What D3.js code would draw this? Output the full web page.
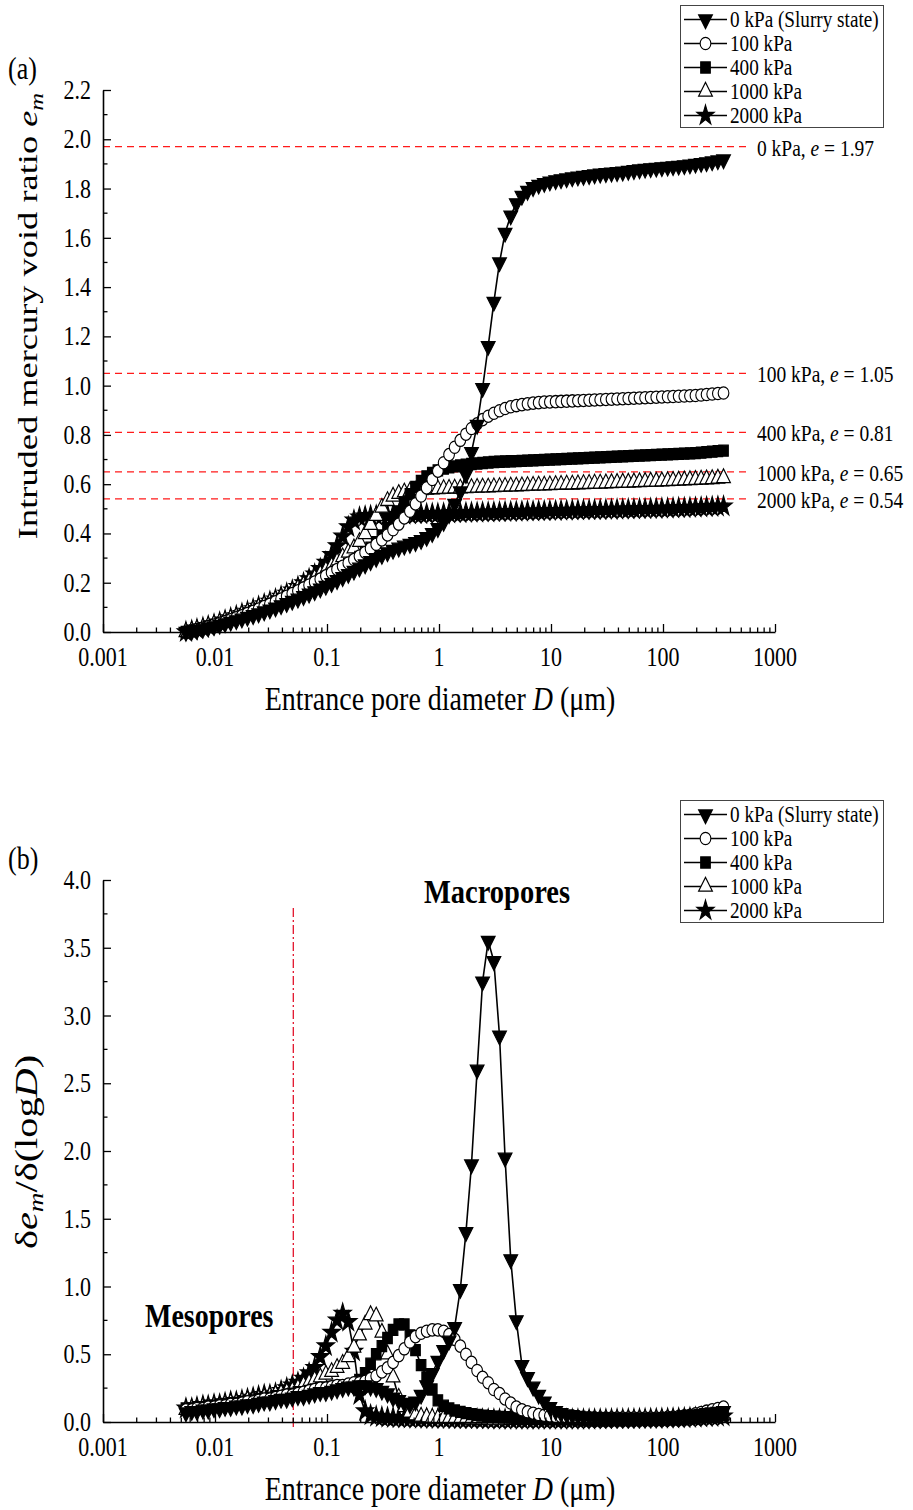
<!DOCTYPE html>
<html>
<head>
<meta charset="utf-8">
<script src="https://cdn.jsdelivr.net/npm/d3@7"></script>
<style>
  body { margin: 0; background: #fff; }
  svg text { font-family: "Liberation Serif", "Times New Roman", serif; fill: #000; }
</style>
</head>
<body>
<svg id="chart" width="913" height="1510"></svg>
<script>
// Entrance pore diameters (µm) of the MIP pressure steps
const diameters = [0.0055, 0.0062, 0.0069, 0.0078, 0.0087, 0.0098, 0.011, 0.0123, 0.0138, 0.0155,
  0.0174, 0.0195, 0.0219, 0.0245, 0.0275, 0.0309, 0.0347, 0.0389, 0.0437, 0.049,
  0.055, 0.0617, 0.0692, 0.0776, 0.0871, 0.0977, 0.11, 0.123, 0.138, 0.155,
  0.174, 0.195, 0.219, 0.245, 0.275, 0.309, 0.347, 0.389, 0.437, 0.49,
  0.55, 0.617, 0.692, 0.776, 0.871, 0.977, 1.1, 1.23, 1.38, 1.55,
  1.74, 1.95, 2.19, 2.45, 2.75, 3.09, 3.47, 3.89, 4.37, 4.9,
  5.5, 6.17, 6.92, 7.76, 8.71, 9.77, 11.0, 12.3, 13.8, 15.5,
  17.4, 19.5, 21.9, 24.5, 27.5, 30.9, 34.7, 38.9, 43.7, 49,
  55, 61.7, 69.2, 77.6, 87.1, 97.7, 110, 123, 138, 155,
  174, 195, 219, 245, 275, 309, 347];

const seriesLabels = ["0 kPa (Slurry state)", "100 kPa", "400 kPa", "1000 kPa", "2000 kPa"];

// Intruded mercury void ratio e_m
const em0 = [0, 0.004, 0.008, 0.013, 0.018, 0.023, 0.029, 0.035, 0.041, 0.047,
  0.054, 0.061, 0.068, 0.075, 0.083, 0.091, 0.099, 0.108, 0.117, 0.126,
  0.135, 0.145, 0.155, 0.165, 0.176, 0.187, 0.198, 0.21, 0.222, 0.235,
  0.248, 0.261, 0.274, 0.287, 0.3, 0.312, 0.323, 0.333, 0.342, 0.35,
  0.357, 0.364, 0.373, 0.385, 0.401, 0.421, 0.446, 0.478, 0.52, 0.57,
  0.64, 0.73, 0.84, 0.99, 1.16, 1.34, 1.5, 1.62, 1.69, 1.74,
  1.77, 1.79, 1.805, 1.815, 1.822, 1.828, 1.833, 1.837, 1.841, 1.845,
  1.848, 1.851, 1.854, 1.857, 1.86, 1.862, 1.864, 1.866, 1.868, 1.871,
  1.874, 1.877, 1.88, 1.882, 1.884, 1.886, 1.888, 1.89, 1.892, 1.894,
  1.897, 1.9, 1.903, 1.906, 1.91, 1.914, 1.918];
const em100 = [0, 0.005, 0.01, 0.016, 0.022, 0.028, 0.035, 0.042, 0.05, 0.058,
  0.066, 0.075, 0.084, 0.093, 0.103, 0.113, 0.123, 0.134, 0.145, 0.156,
  0.167, 0.179, 0.191, 0.203, 0.215, 0.228, 0.241, 0.254, 0.267, 0.28,
  0.294, 0.308, 0.323, 0.339, 0.356, 0.374, 0.394, 0.415, 0.438, 0.463,
  0.49, 0.52, 0.552, 0.585, 0.619, 0.653, 0.687, 0.72, 0.75, 0.778,
  0.803, 0.826, 0.845, 0.862, 0.876, 0.888, 0.898, 0.907, 0.914, 0.919,
  0.923, 0.926, 0.929, 0.931, 0.933, 0.934, 0.935, 0.936, 0.937, 0.938,
  0.939, 0.94, 0.941, 0.942, 0.943, 0.944, 0.945, 0.946, 0.947, 0.948,
  0.949, 0.95, 0.951, 0.952, 0.953, 0.954, 0.955, 0.956, 0.957, 0.958,
  0.959, 0.96, 0.962, 0.964, 0.966, 0.968, 0.97];
const em400 = [0, 0.005, 0.01, 0.016, 0.022, 0.028, 0.035, 0.042, 0.05, 0.058,
  0.066, 0.075, 0.084, 0.093, 0.103, 0.113, 0.123, 0.133, 0.144, 0.155,
  0.166, 0.177, 0.189, 0.201, 0.213, 0.225, 0.237, 0.25, 0.263, 0.276,
  0.29, 0.305, 0.322, 0.342, 0.365, 0.392, 0.422, 0.455, 0.49, 0.526,
  0.56, 0.589, 0.613, 0.632, 0.646, 0.656, 0.663, 0.668, 0.672, 0.676,
  0.679, 0.682, 0.684, 0.686, 0.688, 0.69, 0.691, 0.692, 0.693, 0.694,
  0.695, 0.696, 0.697, 0.698, 0.699, 0.7, 0.701, 0.702, 0.703, 0.704,
  0.705, 0.706, 0.707, 0.708, 0.709, 0.71, 0.711, 0.712, 0.713, 0.714,
  0.715, 0.716, 0.717, 0.718, 0.719, 0.72, 0.721, 0.722, 0.723, 0.724,
  0.725, 0.726, 0.728, 0.73, 0.732, 0.734, 0.736];
const em1000 = [0, 0.005, 0.011, 0.017, 0.024, 0.031, 0.038, 0.046, 0.054, 0.062,
  0.071, 0.08, 0.089, 0.099, 0.109, 0.119, 0.13, 0.141, 0.152, 0.164,
  0.176, 0.189, 0.203, 0.218, 0.234, 0.25, 0.267, 0.285, 0.304, 0.322,
  0.34, 0.366, 0.398, 0.435, 0.472, 0.505, 0.532, 0.55, 0.561, 0.567,
  0.571, 0.574, 0.576, 0.578, 0.579, 0.58, 0.581, 0.582, 0.583, 0.583,
  0.584, 0.585, 0.586, 0.587, 0.587, 0.588, 0.589, 0.59, 0.591, 0.591,
  0.592, 0.593, 0.594, 0.595, 0.595, 0.596, 0.597, 0.598, 0.599, 0.599,
  0.6, 0.601, 0.602, 0.603, 0.603, 0.604, 0.605, 0.606, 0.607, 0.607,
  0.608, 0.609, 0.61, 0.611, 0.611, 0.612, 0.613, 0.614, 0.615, 0.616,
  0.617, 0.618, 0.619, 0.62, 0.621, 0.623, 0.625];
const em2000 = [0, 0.005, 0.011, 0.017, 0.024, 0.031, 0.039, 0.047, 0.056, 0.065,
  0.074, 0.083, 0.093, 0.103, 0.113, 0.123, 0.133, 0.144, 0.156, 0.169,
  0.183, 0.198, 0.215, 0.234, 0.256, 0.282, 0.313, 0.349, 0.388, 0.426,
  0.453, 0.465, 0.469, 0.471, 0.472, 0.473, 0.474, 0.475, 0.476, 0.476,
  0.477, 0.478, 0.478, 0.479, 0.48, 0.48, 0.481, 0.481, 0.482, 0.482,
  0.483, 0.484, 0.484, 0.485, 0.485, 0.486, 0.486, 0.487, 0.487, 0.488,
  0.488, 0.489, 0.489, 0.49, 0.49, 0.491, 0.491, 0.492, 0.492, 0.493,
  0.493, 0.494, 0.494, 0.495, 0.495, 0.496, 0.496, 0.497, 0.497, 0.498,
  0.498, 0.499, 0.499, 0.5, 0.5, 0.501, 0.501, 0.502, 0.503, 0.503,
  0.504, 0.505, 0.506, 0.507, 0.508, 0.509, 0.51];

// Pore size density de_m/d(logD)
const psd0 = [0.07, 0.08, 0.08, 0.09, 0.09, 0.10, 0.10, 0.11, 0.11, 0.12,
  0.12, 0.13, 0.13, 0.14, 0.15, 0.15, 0.16, 0.17, 0.17, 0.18,
  0.19, 0.19, 0.20, 0.21, 0.22, 0.22, 0.23, 0.24, 0.25, 0.26,
  0.26, 0.27, 0.27, 0.26, 0.25, 0.23, 0.21, 0.18, 0.16, 0.14,
  0.13, 0.15, 0.20, 0.27, 0.36, 0.45, 0.53, 0.60, 0.70, 0.98,
  1.40, 1.90, 2.60, 3.25, 3.55, 3.40, 2.85, 1.95, 1.20, 0.75,
  0.42, 0.33, 0.26, 0.20, 0.15, 0.11, 0.08, 0.065, 0.055, 0.05,
  0.045, 0.04, 0.04, 0.035, 0.035, 0.032, 0.031, 0.03, 0.03, 0.029,
  0.029, 0.029, 0.03, 0.03, 0.031, 0.032, 0.034, 0.036, 0.04, 0.045,
  0.05, 0.055, 0.06, 0.065, 0.07, 0.075, 0.08];
const psd100 = [0.09, 0.09, 0.10, 0.10, 0.11, 0.11, 0.12, 0.12, 0.13, 0.13,
  0.14, 0.15, 0.15, 0.16, 0.17, 0.17, 0.18, 0.19, 0.20, 0.20,
  0.21, 0.22, 0.23, 0.24, 0.25, 0.25, 0.26, 0.27, 0.27, 0.28,
  0.29, 0.29, 0.30, 0.32, 0.34, 0.37, 0.40, 0.44, 0.49, 0.54,
  0.59, 0.63, 0.655, 0.67, 0.68, 0.68, 0.67, 0.645, 0.61, 0.56,
  0.50, 0.44, 0.38, 0.33, 0.29, 0.24, 0.21, 0.17, 0.14, 0.11,
  0.09, 0.075, 0.065, 0.055, 0.05, 0.045, 0.04, 0.04, 0.035, 0.035,
  0.03, 0.03, 0.03, 0.03, 0.03, 0.03, 0.03, 0.03, 0.03, 0.03,
  0.03, 0.03, 0.03, 0.03, 0.03, 0.03, 0.035, 0.035, 0.04, 0.045,
  0.05, 0.06, 0.07, 0.08, 0.09, 0.10, 0.11];
const psd400 = [0.10, 0.10, 0.11, 0.11, 0.12, 0.12, 0.13, 0.13, 0.14, 0.14,
  0.15, 0.15, 0.16, 0.17, 0.17, 0.18, 0.19, 0.19, 0.20, 0.21,
  0.22, 0.22, 0.23, 0.24, 0.25, 0.25, 0.26, 0.26, 0.27, 0.27,
  0.28, 0.31, 0.36, 0.43, 0.50, 0.56, 0.62, 0.68, 0.72, 0.72,
  0.64, 0.53, 0.42, 0.33, 0.24, 0.16, 0.12, 0.10, 0.085, 0.075,
  0.065, 0.058, 0.052, 0.047, 0.043, 0.04, 0.037, 0.035, 0.033, 0.031,
  0.03, 0.028, 0.027, 0.026, 0.025, 0.025, 0.024, 0.024, 0.023, 0.023,
  0.022, 0.022, 0.022, 0.021, 0.021, 0.021, 0.02, 0.02, 0.02, 0.02,
  0.02, 0.021, 0.021, 0.022, 0.022, 0.023, 0.024, 0.025, 0.027, 0.029,
  0.031, 0.034, 0.037, 0.04, 0.043, 0.046, 0.05];
const psd1000 = [0.09, 0.10, 0.10, 0.11, 0.11, 0.12, 0.12, 0.13, 0.14, 0.14,
  0.15, 0.16, 0.16, 0.17, 0.18, 0.19, 0.20, 0.21, 0.22, 0.23,
  0.25, 0.27, 0.29, 0.31, 0.33, 0.35, 0.37, 0.40, 0.43, 0.48,
  0.55, 0.64, 0.72, 0.79, 0.78, 0.66, 0.50, 0.33, 0.18, 0.11,
  0.07, 0.05, 0.04, 0.035, 0.03, 0.028, 0.025, 0.024, 0.023, 0.022,
  0.021, 0.02, 0.02, 0.019, 0.019, 0.018, 0.018, 0.018, 0.017, 0.017,
  0.017, 0.016, 0.016, 0.016, 0.016, 0.015, 0.015, 0.015, 0.015, 0.015,
  0.015, 0.015, 0.015, 0.015, 0.016, 0.016, 0.016, 0.017, 0.017, 0.018,
  0.018, 0.019, 0.02, 0.02, 0.021, 0.022, 0.023, 0.024, 0.026, 0.028,
  0.03, 0.032, 0.035, 0.038, 0.041, 0.045, 0.05];
const psd2000 = [0.10, 0.10, 0.11, 0.12, 0.12, 0.13, 0.13, 0.14, 0.15, 0.15,
  0.16, 0.17, 0.18, 0.19, 0.20, 0.20, 0.21, 0.23, 0.25, 0.27,
  0.29, 0.32, 0.36, 0.40, 0.48, 0.56, 0.66, 0.75, 0.80, 0.74,
  0.52, 0.20, 0.08, 0.05, 0.04, 0.035, 0.032, 0.03, 0.028, 0.027,
  0.026, 0.025, 0.024, 0.024, 0.023, 0.023, 0.022, 0.022, 0.021, 0.021,
  0.02, 0.02, 0.02, 0.019, 0.019, 0.019, 0.018, 0.018, 0.018, 0.018,
  0.017, 0.017, 0.017, 0.017, 0.017, 0.017, 0.017, 0.017, 0.017, 0.018,
  0.018, 0.018, 0.018, 0.019, 0.019, 0.019, 0.02, 0.02, 0.02, 0.021,
  0.021, 0.022, 0.022, 0.023, 0.023, 0.024, 0.025, 0.026, 0.027, 0.028,
  0.03, 0.032, 0.034, 0.036, 0.038, 0.04, 0.042];

// Total void ratio of each specimen (dashed reference lines)
const refVoidRatio = [1.97, 1.05, 0.81, 0.65, 0.54];
const refLabels = ["0 kPa", "100 kPa", "400 kPa", "1000 kPa", "2000 kPa"];

const xTickValues = [0.001, 0.01, 0.1, 1, 10, 100, 1000];
const xTickLabels = ["0.001", "0.01", "0.1", "1", "10", "100", "1000"];
const yTicksA = [0, 0.2, 0.4, 0.6, 0.8, 1.0, 1.2, 1.4, 1.6, 1.8, 2.0, 2.2];
const yTicksB = [0, 0.5, 1.0, 1.5, 2.0, 2.5, 3.0, 3.5, 4.0];
const poreBoundary = 0.05;

// glyphs of this figure are taller than they are wide
const TEXT_STRETCH = 1.2;
const TITLE_STRETCH = 1.3;
const MARK_STRETCH = 1.15;

const svg = d3.select("#chart");
svg.append("rect").attr("width", 913).attr("height", 1510).attr("fill", "#fff");

const x = d3.scaleLog().domain([0.001, 1000]).range([103, 775]);
const yA = d3.scaleLinear().domain([0, 2.2]).range([632, 90]);
const yB = d3.scaleLinear().domain([0, 4]).range([1422, 880]);

function label(parent, px, py, size, anchor, stretch) {
  return parent.append("g")
    .attr("transform", `translate(${px},${py}) scale(1,${stretch || TEXT_STRETCH})`)
    .append("text").attr("font-size", size).attr("text-anchor", anchor || "start");
}
function vlabel(parent, px, py, size) {
  return parent.append("g")
    .attr("transform", `translate(${px},${py}) rotate(-90) scale(${TITLE_STRETCH},1)`)
    .append("text").attr("font-size", size).attr("text-anchor", "middle");
}
function richText(sel, parts) {
  parts.forEach(p => {
    const t = sel.append("tspan").text(p.t);
    if (p.i) t.attr("font-style", "italic");
    if (p.dy) t.attr("dy", p.dy);
    if (p.fs) t.attr("font-size", p.fs);
  });
}

const markerKinds = ["triDown", "circle", "square", "triUp", "star"];
function symbolPath(kind) {
  switch (kind) {
    case "triDown":
    case "triUp": return d3.symbol(d3.symbolTriangle, 82)();
    case "circle": return d3.symbol(d3.symbolCircle, 90)();
    case "square": return d3.symbol(d3.symbolSquare, 92)();
    case "star": return d3.symbol(d3.symbolStar, 92)();
  }
}
const openMarker = { triDown: false, circle: true, square: false, triUp: true, star: false };

function drawMarker(g, kind, cx, cy) {
  const rot = kind === "triDown" ? " rotate(180)" : "";
  g.append("path")
    .attr("d", symbolPath(kind))
    .attr("transform", `translate(${cx},${cy}) scale(1,${MARK_STRETCH})${rot}`)
    .attr("fill", openMarker[kind] ? "#fff" : "#000")
    .attr("stroke", "#000")
    .attr("stroke-width", 1.1);
}

function drawAxes(y, yTicks, yMinorStep, yMax) {
  const gx = svg.append("g").attr("transform", `translate(0,${y(0)})`);
  gx.call(d3.axisBottom(x).tickValues(xTickValues).tickSize(-8).tickSizeOuter(0).tickFormat(() => ""));
  const minors = [];
  for (let e = -3; e < 3; e++) for (let k = 2; k <= 9; k++) minors.push(k * Math.pow(10, e));
  gx.selectAll(".minor").data(minors).enter().append("line")
    .attr("class", "minor").attr("x1", d => x(d)).attr("x2", d => x(d))
    .attr("y1", 0).attr("y2", -4.5).attr("stroke", "#000").attr("stroke-width", 1.3);
  xTickValues.forEach((v, i) => {
    label(svg, x(v), y(0) + 34, 22, "middle").text(xTickLabels[i]);
  });

  const gy = svg.append("g").attr("transform", `translate(${x(0.001)},0)`);
  gy.call(d3.axisLeft(y).tickValues(yTicks).tickSize(-8).tickSizeOuter(0).tickFormat(() => ""));
  const yMinors = d3.range(yMinorStep, yMax, yMinorStep * 2);
  gy.selectAll(".minor").data(yMinors).enter().append("line")
    .attr("class", "minor").attr("x1", 0).attr("x2", 4.5)
    .attr("y1", d => y(d)).attr("y2", d => y(d)).attr("stroke", "#000").attr("stroke-width", 1.3);
  yTicks.forEach(v => {
    label(svg, x(0.001) - 12, y(v) + 9, 22, "end").text(d3.format(".1f")(v));
  });

  [gx, gy].forEach(g => {
    g.select(".domain").attr("stroke", "#000").attr("stroke-width", 1.6);
    g.selectAll(".tick line").attr("stroke", "#000").attr("stroke-width", 1.3);
  });
}

function drawSeries(y, valueSets) {
  const line = d3.line().x(d => x(d[0])).y(d => y(d[1]));
  // later series drawn first so the slurry curve ends on top
  for (let s = valueSets.length - 1; s >= 0; s--) {
    const vals = valueSets[s];
    const pts = vals.map((v, i) => [diameters[i], v]).filter(p => p[0] !== undefined);
    const g = svg.append("g");
    g.append("path").attr("d", line(pts)).attr("fill", "none")
      .attr("stroke", "#000").attr("stroke-width", 1.6);
    pts.forEach(p => drawMarker(g, markerKinds[s], x(p[0]), y(p[1])));
  }
}

function drawLegend(top) {
  const g = svg.append("g");
  g.append("rect").attr("x", 680.5).attr("y", top + 0.5).attr("width", 203).attr("height", 122)
    .attr("fill", "#fff").attr("stroke", "#444").attr("stroke-width", 1);
  seriesLabels.forEach((lab, i) => {
    const cy = top + 14.5 + i * 24;
    g.append("line").attr("x1", 684).attr("x2", 727).attr("y1", cy).attr("y2", cy)
      .attr("stroke", "#000").attr("stroke-width", 1.6);
    drawMarker(g, markerKinds[i], 705.5, cy);
    label(g, 730, cy + 7, 19.2).text(lab);
  });
}

// ---------- Panel (a): cumulative intrusion ----------
refVoidRatio.forEach((e, i) => {
  svg.append("line").attr("x1", x(0.001)).attr("x2", 750)
    .attr("y1", yA(e)).attr("y2", yA(e))
    .attr("stroke", "#ff1a1a").attr("stroke-width", 1.2).attr("stroke-dasharray", "7,5");
  const t = label(svg, 757, yA(e) + 9, 19.5);
  richText(t, [{ t: refLabels[i] + ", " }, { t: "e", i: true }, { t: " = " + e.toFixed(2) }]);
});

drawSeries(yA, [em0, em100, em400, em1000, em2000]);
drawAxes(yA, yTicksA, 0.1, 2.2);
drawLegend(5);

label(svg, 8, 79, 26).text("(a)");

const xtA = label(svg, 440, 710, 28, "middle");
richText(xtA, [{ t: "Entrance pore diameter " }, { t: "D", i: true }, { t: " (μm)" }]);

const ytA = vlabel(svg, 37, 316, 28);
richText(ytA, [{ t: "Intruded mercury void ratio  " }, { t: "e", i: true }, { t: "m", i: true, dy: 6, fs: 19 }]);

// ---------- Panel (b): pore size density ----------
svg.append("line").attr("x1", x(poreBoundary)).attr("x2", x(poreBoundary))
  .attr("y1", 908).attr("y2", 1430)
  .attr("stroke", "#e0001a").attr("stroke-width", 1.2).attr("stroke-dasharray", "9,3,2,3");

drawSeries(yB, [psd0, psd100, psd400, psd1000, psd2000]);
drawAxes(yB, yTicksB, 0.25, 4.0);
drawLegend(800);

label(svg, 8, 869, 26).text("(b)");
label(svg, 497, 903, 28.5, "middle").attr("font-weight", "bold").text("Macropores");
label(svg, 145, 1327, 28, "start").attr("font-weight", "bold").text("Mesopores");

const xtB = label(svg, 440, 1500, 28, "middle");
richText(xtB, [{ t: "Entrance pore diameter " }, { t: "D", i: true }, { t: " (μm)" }]);

const ytB = vlabel(svg, 37, 1152, 31);
richText(ytB, [{ t: "δ" }, { t: "e", i: true }, { t: "m", i: true, dy: 6, fs: 21 },
  { t: "/δ(log", dy: -6 }, { t: "D", i: true }, { t: ")" }]);
</script>
</body>
</html>
